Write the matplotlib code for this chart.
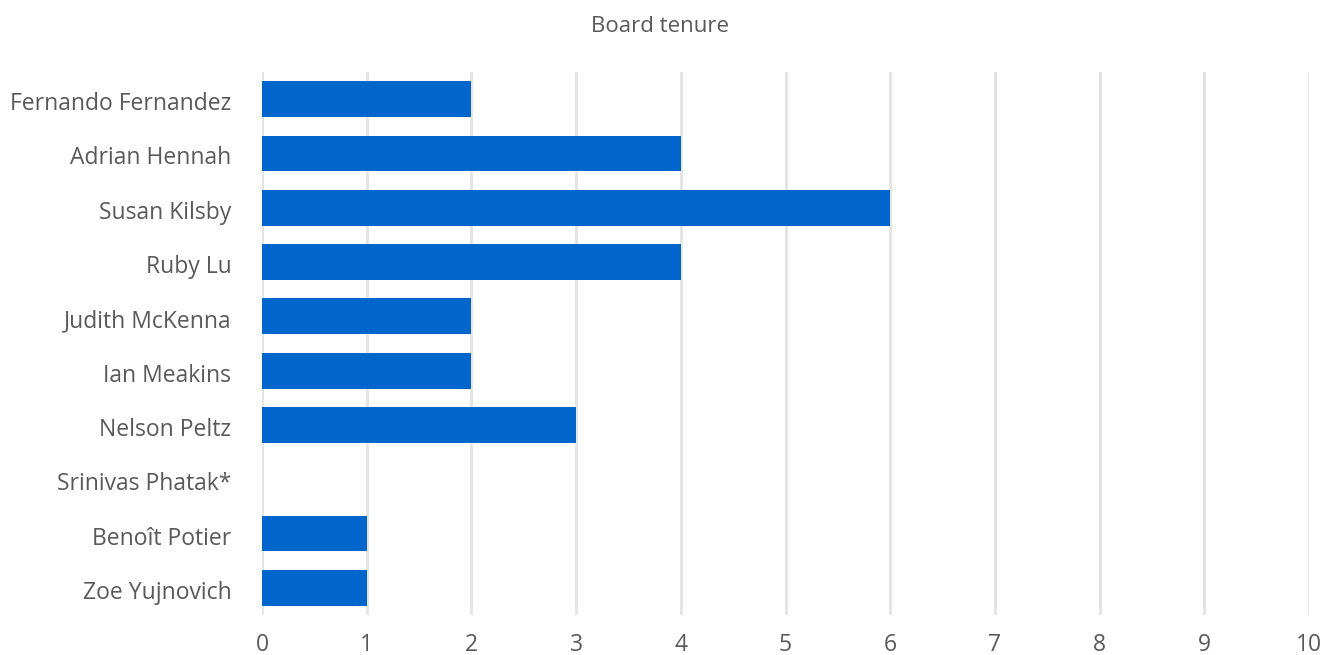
import matplotlib
matplotlib.use("Agg")
import matplotlib.pyplot as plt
import matplotlib.transforms as mtransforms

names = ["Fernando Fernandez", "Adrian Hennah", "Susan Kilsby", "Ruby Lu",
         "Judith McKenna", "Ian Meakins", "Nelson Peltz", "Srinivas Phatak*",
         "Benoît Potier", "Zoe Yujnovich"]
tenure = [2, 4, 6, 4, 2, 2, 3, 0, 1, 1]
xticks = [0, 1, 2, 3, 4, 5, 6, 7, 8, 9, 10]
title = "Board tenure"

plt.rcParams['font.family'] = ['Open Sans', 'DejaVu Sans']
txt = "#595959"

fig = plt.figure(figsize=(13.23, 6.55), dpi=100)
ax = fig.add_axes([262/1323, 1-615/655, (1309-262)/1323, (615-72)/655])
y = list(range(len(names)))
ax.barh(y, tenure, height=0.66, color="#0066CC", zorder=3)
ax.set_ylim(len(names)-0.5, -0.5)
ax.set_xlim(0, 10)
ax.set_xticks(xticks)
ax.set_yticks(y)
ax.set_yticklabels(names)
ax.xaxis.grid(True, color="#e3e3e3", linewidth=2, zorder=0)
ax.set_axisbelow(True)
for s in ax.spines.values():
    s.set_visible(False)
ax.tick_params(axis='both', length=0, labelsize=16.5, colors=txt)
ax.tick_params(axis='y', pad=22)
ax.tick_params(axis='x', pad=13)
off = mtransforms.ScaledTranslation(0, -2/100, fig.dpi_scale_trans)
for lab in ax.get_yticklabels():
    lab.set_transform(lab.get_transform() + off)
fig.text(660/1323, 1-27/655, title, ha='center', va='center', fontsize=16, color=txt)
fig.savefig("out.png", dpi=100)
